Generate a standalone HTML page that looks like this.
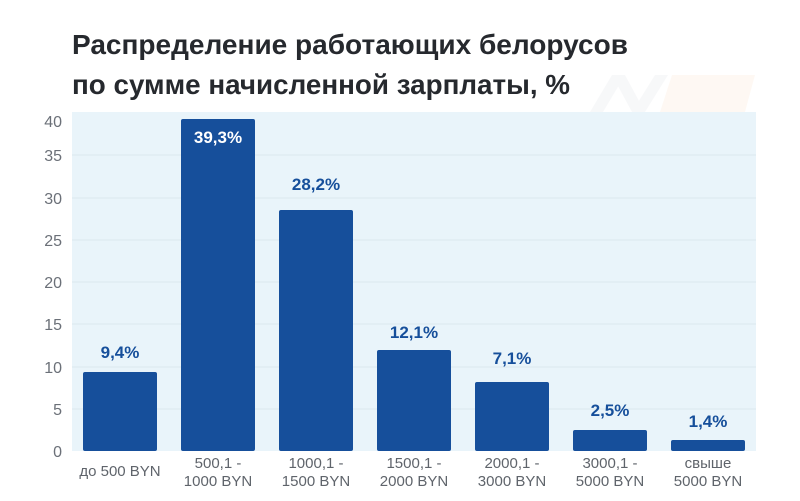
<!DOCTYPE html>
<html><head><meta charset="utf-8"><style>
body{margin:0;width:800px;height:496px;background:#fff;overflow:hidden;font-family:"Liberation Sans",sans-serif}
</style></head><body>
<svg width="800" height="496" xmlns="http://www.w3.org/2000/svg" font-family="Liberation Sans, sans-serif">
<text x="72" y="54" font-size="28" font-weight="bold" fill="#26292e" textLength="556" lengthAdjust="spacingAndGlyphs">Распределение работающих белорусов</text>
<text x="72" y="94" font-size="28" font-weight="bold" fill="#26292e" textLength="498" lengthAdjust="spacingAndGlyphs">по сумме начисленной зарплаты, %</text>
<g opacity="0.45">
<polygon points="590,112 612,75 625,75 603,112" fill="#eef0f3"/>
<polygon points="612,75 625,75 645,112 632,112" fill="#eef0f3"/>
<polygon points="632,112 655,75 668,75 645,112" fill="#eef0f3"/>
<polygon points="672,75 755,75 745,112 660,112" fill="#fdf1e6"/>
</g>
<rect x="72" y="112" width="684" height="339" fill="#e9f4fa"/>
<g stroke="#dce8ef" stroke-width="1">
<line x1="72" y1="409" x2="756" y2="409"/><line x1="72" y1="367" x2="756" y2="367"/>
<line x1="72" y1="324" x2="756" y2="324"/><line x1="72" y1="282" x2="756" y2="282"/>
<line x1="72" y1="240" x2="756" y2="240"/><line x1="72" y1="198" x2="756" y2="198"/>
<line x1="72" y1="155" x2="756" y2="155"/>
</g>
<g font-size="16" fill="#6b7078" text-anchor="end">
<text x="62" y="457">0</text><text x="62" y="415">5</text><text x="62" y="373">10</text>
<text x="62" y="330">15</text><text x="62" y="288">20</text><text x="62" y="246">25</text>
<text x="62" y="204">30</text><text x="62" y="161">35</text><text x="62" y="127">40</text>
</g>
<g fill="#164f9b">
<rect x="83" y="372" width="74" height="79" rx="2"/>
<rect x="181" y="119" width="74" height="332" rx="2"/>
<rect x="279" y="210" width="74" height="241" rx="2"/>
<rect x="377" y="350" width="74" height="101" rx="2"/>
<rect x="475" y="382" width="74" height="69" rx="2"/>
<rect x="573" y="430" width="74" height="21" rx="2"/>
<rect x="671" y="440" width="74" height="11" rx="2"/>
</g>
<g font-size="17" font-weight="bold" fill="#164f9b" text-anchor="middle">
<text x="120" y="358">9,4%</text>
<text x="218" y="143" fill="#fff">39,3%</text>
<text x="316" y="190">28,2%</text>
<text x="414" y="338">12,1%</text>
<text x="512" y="364">7,1%</text>
<text x="610" y="416">2,5%</text>
<text x="708" y="427">1,4%</text>
</g>
<g font-size="15" fill="#5f646b" text-anchor="middle">
<text x="120" y="476">до 500 BYN</text>
<text x="218" y="468">500,1 -</text><text x="218" y="486">1000 BYN</text>
<text x="316" y="468">1000,1 -</text><text x="316" y="486">1500 BYN</text>
<text x="414" y="468">1500,1 -</text><text x="414" y="486">2000 BYN</text>
<text x="512" y="468">2000,1 -</text><text x="512" y="486">3000 BYN</text>
<text x="610" y="468">3000,1 -</text><text x="610" y="486">5000 BYN</text>
<text x="708" y="468">свыше</text><text x="708" y="486">5000 BYN</text>
</g>
</svg>
</body></html>
